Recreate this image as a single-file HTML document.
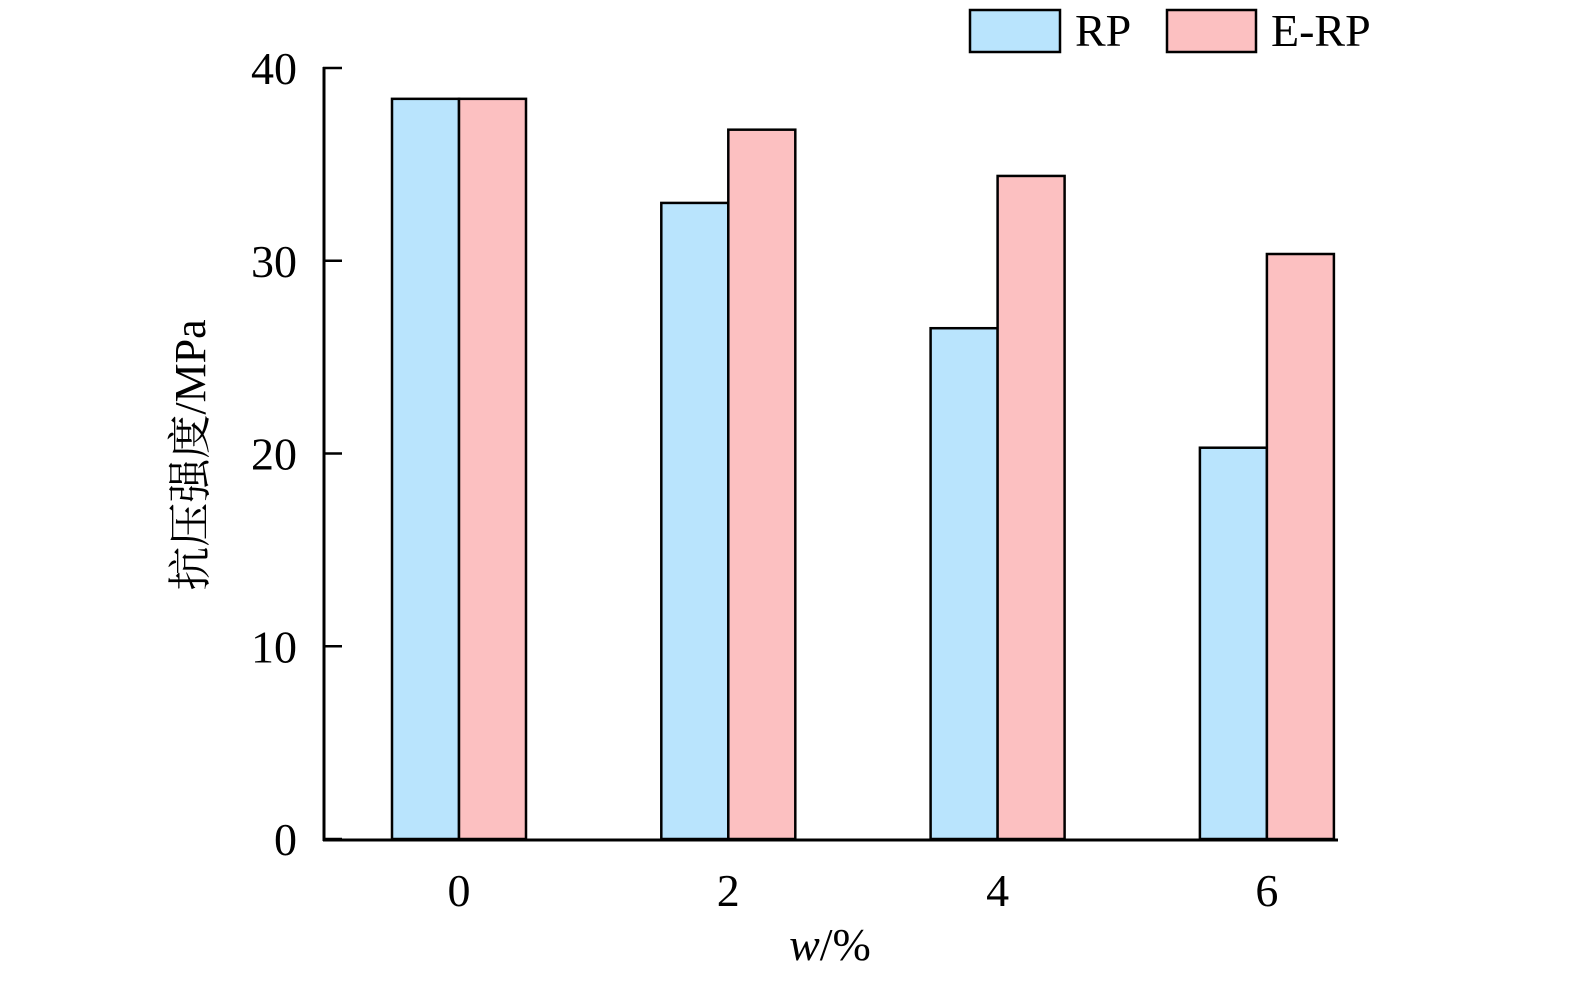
<!DOCTYPE html>
<html><head><meta charset="utf-8"><style>
html,body{margin:0;padding:0;background:#fff;}
svg text{font-family:"Liberation Serif","Noto Serif CJK SC",serif;fill:#000;}
</style></head><body>
<svg width="1575" height="978" viewBox="0 0 1575 978" xmlns="http://www.w3.org/2000/svg">
<g id="plot"></g>
<g>
<rect x="970" y="10" width="90" height="42" fill="#b9e4fd" stroke="#000" stroke-width="2.5"/>
<text x="1075" y="46" font-size="46">RP</text>
<rect x="1167" y="10" width="89" height="42" fill="#fcc0c1" stroke="#000" stroke-width="2.5"/>
<text x="1271" y="46" font-size="46">E-RP</text>
</g>
<text x="830" y="960" font-size="46" text-anchor="middle"><tspan font-style="italic">w</tspan>/%</text>
<text transform="translate(205,455) rotate(-90)" font-size="44" text-anchor="middle">抗压强度/MPa</text>
</svg>
<script>
const categories=["0","2","4","6"];
const rpValues=[38.4,33.0,26.5,20.3];
const erpValues=[38.4,36.8,34.4,30.35];
const yTicks=[0,10,20,30,40];
const NS="http://www.w3.org/2000/svg";
const g=document.getElementById('plot');
const y0=839,yTop=68,yMax=40;
function y(v){return y0-(v/yMax)*(y0-yTop);}
function xc(i){return 459+i*269.3;}
const bw=67;
function mk(tag,attrs){const e=document.createElementNS(NS,tag);for(const k in attrs)e.setAttribute(k,attrs[k]);g.appendChild(e);return e;}
categories.forEach((c,i)=>{
  const r=mk('rect',{x:xc(i)-bw,y:y(rpValues[i]),width:bw,height:y0-y(rpValues[i]),fill:'#b9e4fd',stroke:'#000','stroke-width':2.5});
  
  
  const e=mk('rect',{x:xc(i),y:y(erpValues[i]),width:bw,height:y0-y(erpValues[i]),fill:'#fcc0c1',stroke:'#000','stroke-width':2.5});
  
  
  const t=mk('text',{x:xc(i),y:906,'font-size':46,'text-anchor':'middle'});
  t.textContent=c;
  
  
});
yTicks.forEach(v=>{
  const l=mk('line',{x1:323,x2:342,y1:y(v),y2:y(v),stroke:'#000','stroke-width':2.5});
  
  
  const t=mk('text',{x:297,y:y(v)+16,'font-size':46,'text-anchor':'end'});
  t.textContent=v;
  
  
});
const ya=mk('line',{x1:324,x2:324,y1:67,y2:841,stroke:'#000','stroke-width':3});


const xa=mk('line',{x1:323,x2:1338,y1:840,y2:840,stroke:'#000','stroke-width':3});


</script>
</body></html>
